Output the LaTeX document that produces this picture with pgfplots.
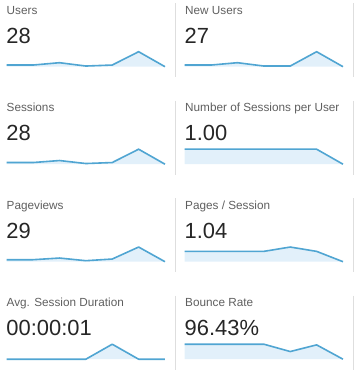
\documentclass[border=0pt]{standalone}
\usepackage{pgfplots}
\usepackage{pgfplotstable}
\pgfplotsset{compat=1.18}
\usepackage{fontspec}
\setmainfont{Liberation Sans}
\definecolor{ln}{RGB}{80,165,210}
\definecolor{fl}{RGB}{226,240,250}
\definecolor{ttl}{RGB}{95,95,95}
\definecolor{num}{RGB}{38,38,38}
\definecolor{sep}{RGB}{222,222,222}

\pgfplotstableread{
x users newusers sessions spu pageviews pps dur bounce
0 5 5 5 45 6 31 0 45
1 5 5 5 45 6 31 0 45
2 12 12 11 45 11 31 0 45
3 2 2 2 45 3 31 0 45
4 5 2 5 45 8 44 45 23
5 45 45 45 45 44 31 0 43
6 0 0 0 0 0 0 0 0
}\data

\pgfplotsset{spark/.style={hide axis, scale only axis, width=158.3bp, height=15bp,
  xmin=0, xmax=6, ymin=0, ymax=45, clip=false, anchor=south west}}

\newcommand{\spark}[3]{%
  \begin{axis}[spark, at={(#1bp,-#2bp)}]
    \addplot[draw=none, fill=fl] table[x=x,y=#3]{\data} \closedcycle;
    \addplot[ln, line width=1.6bp, line join=round] table[x=x,y=#3]{\data};
  \end{axis}}

\newcommand{\ttl}[3]{\node[anchor=base west, font=\fontsize{11.8}{13}\selectfont, text=ttl, inner sep=0pt] at (#1bp,-#2bp) {#3};}
\newcommand{\num}[3]{\node[anchor=base west, font=\fontsize{22}{26}\selectfont, text=num, inner sep=0pt] at (#1bp,-#2bp) {#3};}
\newcommand{\sepl}[2]{\draw[sep, line width=0.8bp] (#1bp,-#2bp) -- ++(0,-74bp);}

\begin{document}
\begin{tikzpicture}
\path[use as bounding box] (0,0) rectangle (359bp,-374bp);

% Row 1
\ttl{6.5}{14}{Users}
\num{6.3}{43.3}{28}
\spark{6.7}{66.7}{users}
\sepl{175}{3}
\ttl{185}{14}{New Users}
\num{184.5}{43.3}{27}
\spark{184.7}{66.7}{newusers}
\sepl{353}{3}

% Row 2
\ttl{6.5}{111.5}{Sessions}
\num{6.3}{140.8}{28}
\spark{6.7}{164.2}{sessions}
\sepl{175}{100.5}
\ttl{185}{111.5}{Number of Sessions per User}
\num{184.5}{140.8}{1.00}
\spark{184.7}{164.2}{spu}
\sepl{353}{100.5}

% Row 3
\ttl{6.5}{209}{Pageviews}
\num{6.3}{238.3}{29}
\spark{6.7}{261.7}{pageviews}
\sepl{175}{198}
\ttl{185}{209}{Pages / Session}
\num{184.5}{238.3}{1.04}
\spark{184.7}{261.7}{pps}
\sepl{353}{198}

% Row 4
\ttl{6.5}{306.5}{Avg. Session Duration}
\num{6.3}{335.8}{00:00:01}
\spark{6.7}{359.2}{dur}
\sepl{175}{295.5}
\ttl{185}{306.5}{Bounce Rate}
\num{184.5}{335.8}{96.43\%}
\spark{184.7}{359.2}{bounce}
\sepl{353}{295.5}
\end{tikzpicture}
\end{document}
